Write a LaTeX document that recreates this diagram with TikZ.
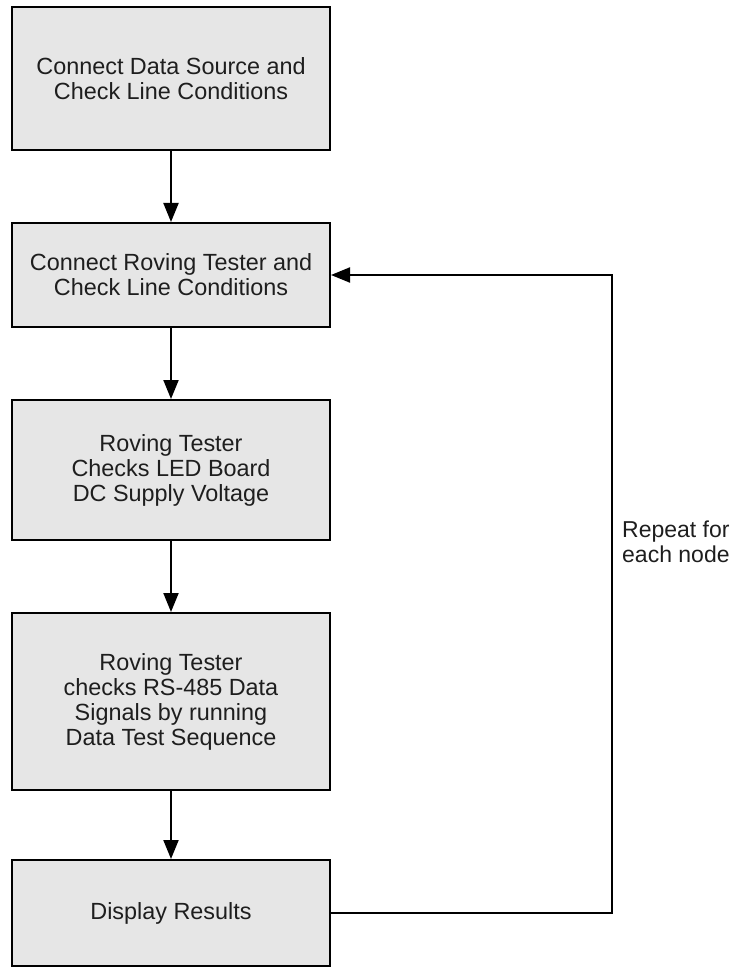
\documentclass[tikz,border=0pt]{standalone}
\usepackage{fontspec}
\setmainfont{Liberation Sans}
\usetikzlibrary{arrows.meta}
\definecolor{boxfill}{HTML}{E6E6E6}
\definecolor{txt}{HTML}{1E1E1E}
\begin{document}
\begin{tikzpicture}[x=1pt,y=-1pt,
  stepbox/.style={draw=black,line width=2pt,fill=boxfill,minimum width=318pt,
    inner sep=0pt,align=center,text=txt,font=\fontsize{23.4}{25}\selectfont},
  flow/.style={draw=black,line width=2pt,-{Triangle[width=15pt,length=19pt]}},
  lbl/.style={align=left,text=txt,inner sep=0pt,font=\fontsize{23}{25}\selectfont}]
\useasboundingbox (0,0) rectangle (735,968);
\node[stepbox,minimum height=143pt] (b1) at (171,78.5) {Connect Data Source and\\Check Line Conditions};
\node[stepbox,minimum height=104pt] (b2) at (171,275) {Connect Roving Tester and\\Check Line Conditions};
\node[stepbox,minimum height=140pt] (b3) at (171,470) {Roving Tester\\Checks LED Board\\DC Supply Voltage};
\node[stepbox,minimum height=177pt] (b4) at (171,701.5) {Roving Tester\\checks RS-485 Data\\Signals by running\\Data Test Sequence};
\node[stepbox,minimum height=106pt] (b5) at (171,913) {Display Results};
\coordinate (c1) at (612,913);
\coordinate (c2) at (612,275);
\node[lbl,anchor=west] (rep) at (622,542) {Repeat for\\each node};
\draw[flow] (b1) -- (b2);
\draw[flow] (b2) -- (b3);
\draw[flow] (b3) -- (b4);
\draw[flow] (b4) -- (b5);
\draw[flow] (b5.east) -- (c1) -- (c2) -- (b2.east);
\end{tikzpicture}
\end{document}
